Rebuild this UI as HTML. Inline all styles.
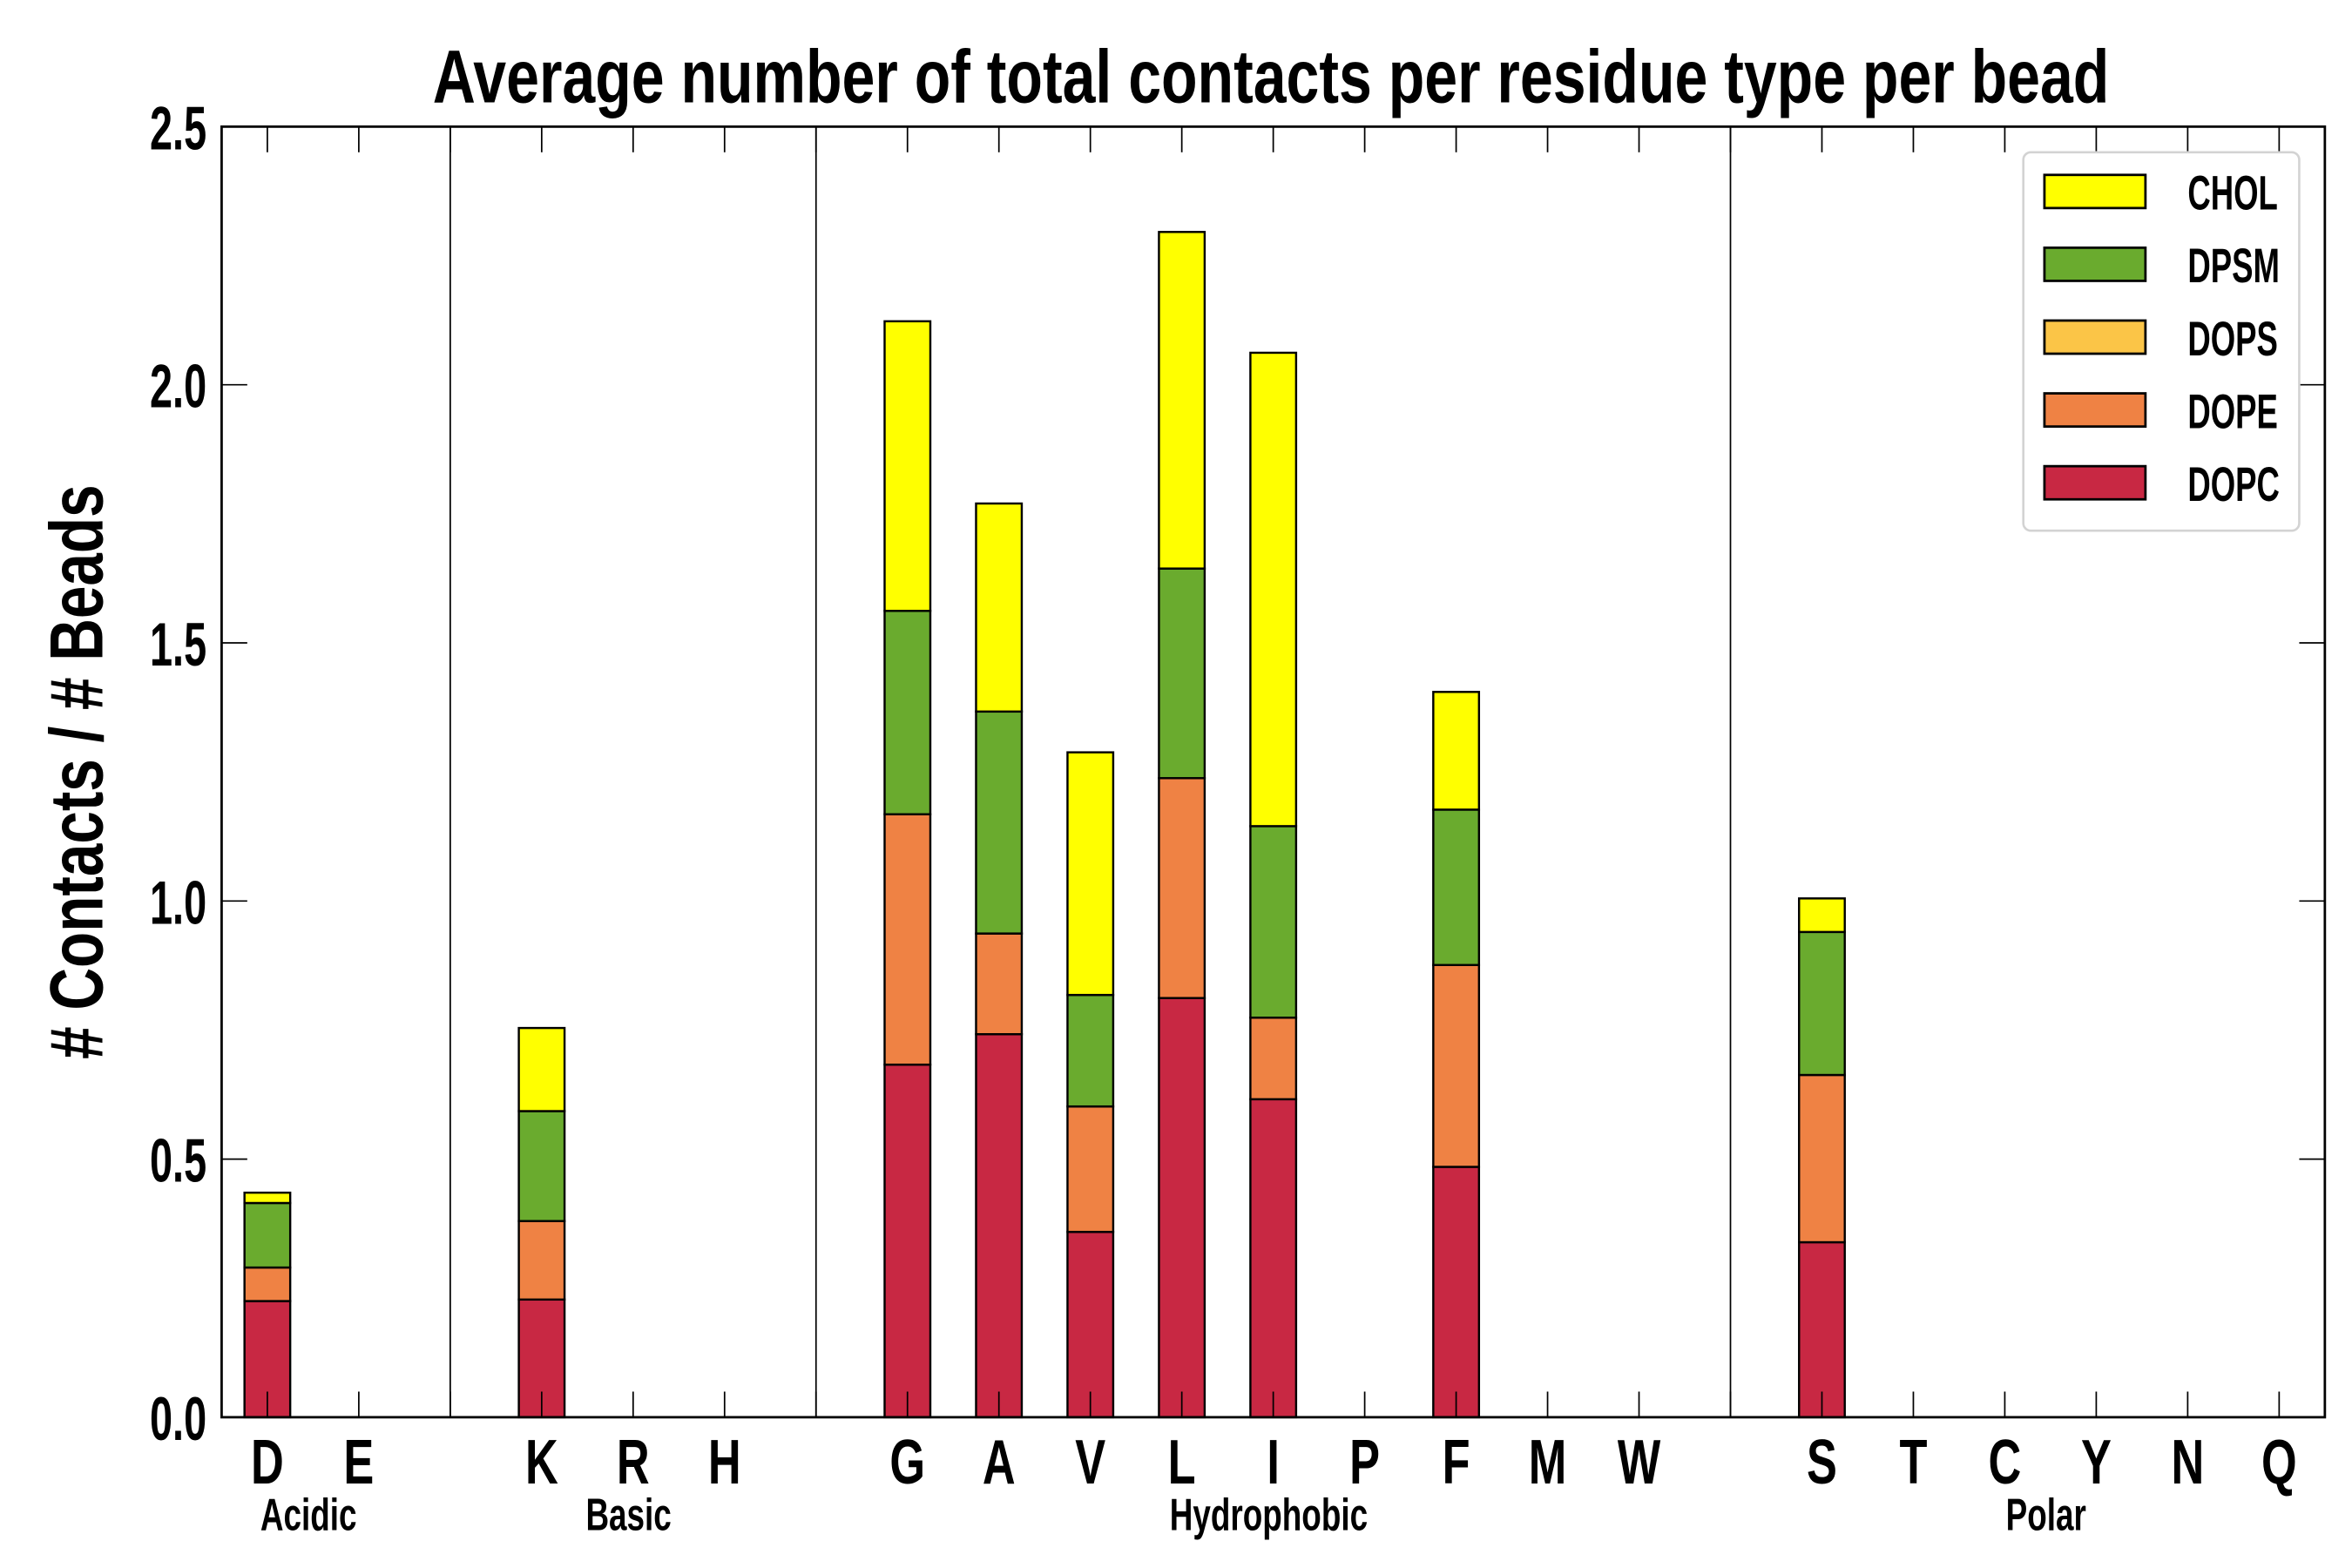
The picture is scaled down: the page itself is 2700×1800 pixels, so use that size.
<!DOCTYPE html>
<html><head><meta charset="utf-8"><style>
html,body{margin:0;padding:0;background:#fff}
svg{display:block}
text{font-family:"Liberation Sans Narrow","Liberation Sans",sans-serif;font-weight:bold;fill:#000}
</style></head><body>
<svg id="chart" width="2700" height="1800" viewBox="0 0 1560 1040" xmlns="http://www.w3.org/2000/svg">
<g id="plot"></g>
</svg>
<script>
const categories = ["D","E","","K","R","H","","G","A","V","L","I","P","F","M","W","","S","T","C","Y","N","Q"];
const seriesNames = ["DOPC","DOPE","DOPS","DPSM","CHOL"];
const seriesColors = ["#c82843","#ef8244","#fbc547","#6aab2e","#ffff00"];
const dopc = [0.225,0,0,0.228,0,0,0,0.683,0.742,0.359,0.812,0.616,0,0.485,0,0,0,0.339,0,0,0,0,0];
const dope = [0.065,0,0,0.152,0,0,0,0.485,0.195,0.243,0.426,0.158,0,0.391,0,0,0,0.324,0,0,0,0,0];
const dops = [0,0,0,0,0,0,0,0,0,0,0,0,0,0,0,0,0,0,0,0,0,0,0];
const dpsm = [0.125,0,0,0.213,0,0,0,0.394,0.43,0.216,0.406,0.371,0,0.301,0,0,0,0.277,0,0,0,0,0];
const chol = [0.02,0,0,0.161,0,0,0,0.561,0.403,0.47,0.652,0.917,0,0.228,0,0,0,0.065,0,0,0,0,0];
const yTicks = [0,0.5,1.0,1.5,2.0,2.5];
const yTickLabels = ["0.0","0.5","1.0","1.5","2.0","2.5"];
const separators = [2,6,16];
const groupNames = ["Acidic","Basic","Hydrophobic","Polar"];
const groupStart = [0,3,7,17];
const groupEnd = [1,5,15,22];

const L=147,R=1542,T=84,B=940;
const x = i => L + (i+0.5)*(R-L)/23;
const y = v => B - v*(B-T)/2.5;
const bw = 0.5*(R-L)/23;
const NS="http://www.w3.org/2000/svg";
const g=document.getElementById('plot');
function mk(tag,attrs,parent){const e=document.createElementNS(NS,tag);for(const k in attrs)e.setAttribute(k,attrs[k]);(parent||g).appendChild(e);return e;}
function txt(px,py,sx,size,anchor,parent){return mk('text',{x:0,y:0,'text-anchor':anchor,'font-size':size,transform:`translate(${px},${py}) scale(${sx},1)`},parent);}

const data=[dopc,dope,dops,dpsm,chol];
categories.forEach((c,i)=>{
  let base=0;
  data.forEach((arr,s)=>{
    const v=arr[i];
    const r=mk('rect',{x:x(i)-bw/2,y:y(base+v),width:bw,height:Math.max(0,y(base)-y(base+v)),fill:seriesColors[s],stroke:'#000','stroke-width':1.4});
    
    
    base+=v;
  });
});
separators.forEach(i=>{
  const l=mk('line',{x1:x(i),x2:x(i),y1:T,y2:B,stroke:'#000','stroke-width':1});
  
  
});
categories.forEach((c,i)=>{
  const t1=mk('line',{x1:x(i),x2:x(i),y1:B,y2:B-17,stroke:'#000','stroke-width':1});
  
  
  const t2=mk('line',{x1:x(i),x2:x(i),y1:T,y2:T+17,stroke:'#000','stroke-width':1});
  
  
  if(c){
    const tx=txt(x(i),984,0.72,42,'middle');
    tx.textContent=c;
    
    
  }
});
groupNames.forEach((n,k)=>{
  const cx=(x(groupStart[k])+x(groupEnd[k]))/2;
  const t=txt(cx-3,1015,0.71,30,'middle');
  t.textContent=n;
  
  
});
yTicks.forEach((v,k)=>{
  const a=mk('line',{x1:L,x2:L+17,y1:y(v),y2:y(v),stroke:'#000','stroke-width':1});
  
  
  const b=mk('line',{x1:R,x2:R-17,y1:y(v),y2:y(v),stroke:'#000','stroke-width':1});
  
  
  const t=txt(137,y(v)+15,0.66,41,'end');
  t.textContent=yTickLabels[k];
  
  
});
const sp=mk('rect',{x:L,y:T,width:R-L,height:B-T,fill:'none',stroke:'#000','stroke-width':1.6});


const ti=mk('text',{x:843,y:68,'text-anchor':'middle','font-size':50,textLength:1112,lengthAdjust:'spacingAndGlyphs'});
ti.textContent='Average number of total contacts per residue type per bead';


const yt=mk('text',{x:0,y:0,'text-anchor':'middle','font-size':50,transform:'translate(68,512) rotate(-90)',textLength:381,lengthAdjust:'spacingAndGlyphs'});
yt.textContent='# Contacts / # Beads';


const lg=mk('g',{});


mk('rect',{x:1342,y:101,width:183,height:251,rx:5,fill:'#fff',stroke:'#d3d3d3','stroke-width':1.5},lg);
const order=[4,3,2,1,0];
order.forEach((s,k)=>{
  const cy=127+k*48.3;
  const p=mk('rect',{x:1356,y:cy-11,width:67,height:22,fill:seriesColors[s],stroke:'#000','stroke-width':1.6},lg);
  
  
  const t=txt(1451,cy+12,0.66,32,'start',lg);
  t.textContent=seriesNames[s];
  
  
});
</script>
</body></html>
